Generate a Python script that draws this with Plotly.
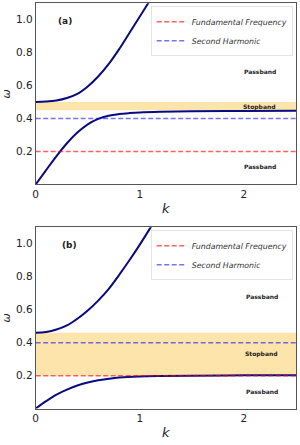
import plotly.graph_objects as go

# ---------------- data ----------------
k_lo_a = [0, 0.1, 0.2, 0.3, 0.4, 0.5, 0.6, 0.7, 0.8, 0.9, 1.0, 1.2, 1.5, 2.0, 2.5]
w_lo_a = [0, 0.087, 0.172, 0.25, 0.315, 0.365, 0.398, 0.417, 0.427, 0.433, 0.437, 0.441, 0.444, 0.446, 0.447]
k_up_a = [0, 0.1, 0.2, 0.3, 0.4, 0.5, 0.6, 0.7, 0.8, 0.9, 1.0, 1.1, 1.2]
w_up_a = [0.5, 0.503, 0.51, 0.525, 0.55, 0.595, 0.655, 0.73, 0.82, 0.92, 1.02, 1.12, 1.22]

k_lo_b = [0, 0.1, 0.2, 0.3, 0.4, 0.5, 0.6, 0.7, 0.8, 1.0, 1.2, 1.5, 2.0, 2.5]
w_lo_b = [0, 0.045, 0.085, 0.115, 0.14, 0.158, 0.172, 0.181, 0.188, 0.195, 0.198, 0.2, 0.202, 0.203]
k_up_b = [0, 0.1, 0.2, 0.3, 0.4, 0.5, 0.6, 0.7, 0.8, 0.9, 1.0, 1.1, 1.2]
w_up_b = [0.46, 0.465, 0.48, 0.505, 0.545, 0.595, 0.655, 0.725, 0.81, 0.9, 0.995, 1.095, 1.19]

stop_a = [0.45, 0.5]
stop_b = [0.2, 0.46]
fundamental = 0.2
second_harm = 0.4
k_range = [0, 2.5]

yticks = [0.2, 0.4, 0.6, 0.8, 1.0]
ytick_labels = ["0.2", "0.4", "0.6", "0.8", "1.0"]
xticks = [0, 1, 2]
xtick_labels = ["0", "1", "2"]

band_labels_a = [("Passband", 2.15, 0.686), ("Stopband", 2.15, 0.47), ("Passband", 2.15, 0.108)]
band_labels_b = [("Passband", 2.17, 0.68), ("Stopband", 2.17, 0.332), ("Passband", 2.17, 0.102)]

# ---------------- styles ----------------
NAVY = "#0a0a80"
BAND = "#fde4aa"
RED = "rgba(255,0,0,0.62)"
BLUE = "rgba(0,0,255,0.55)"
FONT = "DejaVu Sans"

fig = go.Figure()


def add_panel(xa, ya, leg, k_lo, w_lo, k_up, w_up, stop):
    # stopband
    fig.add_trace(go.Scatter(x=[k_range[0], k_range[1], k_range[1], k_range[0], k_range[0]],
                             y=[stop[0], stop[0], stop[1], stop[1], stop[0]],
                             fill="toself", fillcolor=BAND, line=dict(width=0),
                             mode="lines", showlegend=False, hoverinfo="skip",
                             xaxis=xa, yaxis=ya))
    # dispersion branches
    for kk, ww in ((k_lo, w_lo), (k_up, w_up)):
        fig.add_trace(go.Scatter(x=kk, y=ww, mode="lines",
                                 line=dict(color=NAVY, width=2, shape="spline", smoothing=1.0),
                                 showlegend=False, xaxis=xa, yaxis=ya))
    # horizontal references
    fig.add_trace(go.Scatter(x=k_range, y=[fundamental, fundamental], mode="lines",
                             line=dict(color=RED, width=1.5, dash="5px,2.5px"),
                             name="<i>Fundamental Frequency</i>", legend=leg,
                             xaxis=xa, yaxis=ya))
    fig.add_trace(go.Scatter(x=k_range, y=[second_harm, second_harm], mode="lines",
                             line=dict(color=BLUE, width=1.5, dash="5px,2.5px"),
                             name="<i>Second Harmonic</i>", legend=leg,
                             xaxis=xa, yaxis=ya))


add_panel("x", "y", "legend", k_lo_a, w_lo_a, k_up_a, w_up_a, stop_a)
add_panel("x2", "y2", "legend2", k_lo_b, w_lo_b, k_up_b, w_up_b, stop_b)

W, H = 300, 445
xdom = [35.7 / W, 296 / W]
ydom_a = [(H - 184.4) / H, (H - 3.3) / H]
ydom_b = [(H - 408.6) / H, (H - 227.3) / H]

axis_common = dict(showgrid=False, zeroline=False, showline=True, linecolor="#555555", linewidth=1,
                   mirror=True, ticks="", tickfont=dict(family=FONT, size=10.5, color="#222222"),
                   automargin=False)

fig.update_layout(
    width=W, height=H,
    margin=dict(l=0, r=0, t=0, b=0),
    paper_bgcolor="white", plot_bgcolor="white",
    font=dict(family=FONT),
    xaxis=dict(domain=xdom, range=k_range, anchor="y", tickvals=xticks, ticktext=xtick_labels,
               title=dict(text="<i>k</i>", font=dict(family=FONT, size=13, color="#222222"), standoff=4),
               **axis_common),
    yaxis=dict(domain=ydom_a, range=[0, 1.1], anchor="x", tickvals=yticks, ticktext=ytick_labels,
               title=dict(text="<i>ω</i>", font=dict(family=FONT, size=11, color="#222222"), standoff=4),
               **axis_common),
    xaxis2=dict(domain=xdom, range=k_range, anchor="y2", tickvals=xticks, ticktext=xtick_labels,
                title=dict(text="<i>k</i>", font=dict(family=FONT, size=13, color="#222222"), standoff=4),
                **axis_common),
    yaxis2=dict(domain=ydom_b, range=[0, 1.1], anchor="x2", tickvals=yticks, ticktext=ytick_labels,
                title=dict(text="<i>ω</i>", font=dict(family=FONT, size=11, color="#222222"), standoff=4),
                **axis_common),
    legend=dict(x=292.7 / W, y=(H - 6.2) / H, xanchor="right", yanchor="top",
                bgcolor="white", bordercolor="#e4e4e4", borderwidth=1,
                font=dict(family=FONT, size=7.8, color="#333333"), itemwidth=30, tracegroupgap=0),
    legend2=dict(x=292.7 / W, y=(H - 230.2) / H, xanchor="right", yanchor="top",
                 bgcolor="white", bordercolor="#e4e4e4", borderwidth=1,
                 font=dict(family=FONT, size=7.8, color="#333333"), itemwidth=30, tracegroupgap=0),
)

annots = []
for txt, xx, yy in band_labels_a:
    annots.append(dict(text="<b>" + txt + "</b>", x=xx, y=yy, xref="x", yref="y", showarrow=False,
                       font=dict(family=FONT, size=6, color="#222222")))
for txt, xx, yy in band_labels_b:
    annots.append(dict(text="<b>" + txt + "</b>", x=xx, y=yy, xref="x2", yref="y2", showarrow=False,
                       font=dict(family=FONT, size=6, color="#222222")))
annots.append(dict(text="<b>(a)</b>", x=0.28, y=0.99, xref="x", yref="y", showarrow=False,
                   font=dict(family=FONT, size=9, color="#222222")))
annots.append(dict(text="<b>(b)</b>", x=0.32, y=0.995, xref="x2", yref="y2", showarrow=False,
                   font=dict(family=FONT, size=9, color="#222222")))
fig.update_layout(annotations=annots)

fig.write_html("out.html", config={"displayModeBar": False},
               post_script="document.body.style.margin='0';")
